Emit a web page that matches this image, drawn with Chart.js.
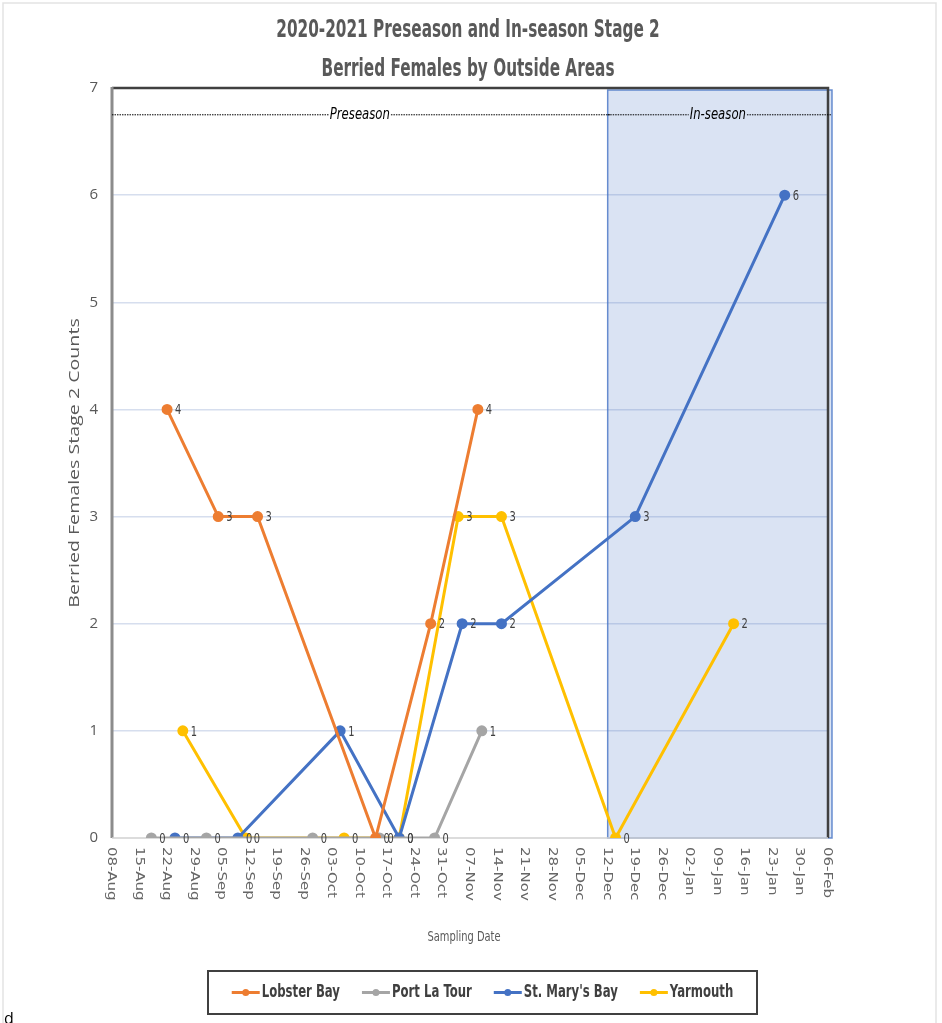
<!DOCTYPE html>
<html>
<head>
<meta charset="utf-8">
<script src="https://cdn.jsdelivr.net/npm/chart.js@4.4.1/dist/chart.umd.min.js"></script>
<style>
  html, body { margin: 0; padding: 0; background: #fff; }
  canvas { display: block; }
</style>
</head>
<body>
<canvas id="chart" width="942" height="1023"></canvas>
<script>
const startDate = '2020-08-08';
const tickLabels = ['08-Aug', '15-Aug', '22-Aug', '29-Aug', '05-Sep', '12-Sep', '19-Sep', '26-Sep',
  '03-Oct', '10-Oct', '17-Oct', '24-Oct', '31-Oct', '07-Nov', '14-Nov', '21-Nov', '28-Nov',
  '05-Dec', '12-Dec', '19-Dec', '26-Dec', '02-Jan', '09-Jan', '16-Jan', '23-Jan', '30-Jan', '06-Feb'];
const inSeasonStart = '2020-12-12';

const lobsterDates = ['2020-08-22', '2020-09-04', '2020-09-14', '2020-10-14', '2020-10-28', '2020-11-09'];
const lobsterCounts = [4, 3, 3, 0, 2, 4];
const portDates = ['2020-08-18', '2020-09-01', '2020-09-28', '2020-10-15', '2020-10-29', '2020-11-10'];
const portCounts = [0, 0, 0, 0, 0, 1];
const stMarysDates = ['2020-08-24', '2020-09-09', '2020-10-05', '2020-10-20', '2020-11-05', '2020-11-15', '2020-12-19', '2021-01-26'];
const stMarysCounts = [0, 0, 1, 0, 2, 2, 3, 6];
const yarmouthDates = ['2020-08-26', '2020-09-11', '2020-10-06', '2020-10-20', '2020-11-04', '2020-11-15', '2020-12-14', '2021-01-13'];
const yarmouthCounts = [1, 0, 0, 0, 3, 3, 0, 2];

const dayOf = d => (Date.parse(d) - Date.parse(startDate)) / 86400000;
const points = (dates, counts) => dates.map((d, i) => ({ x: dayOf(d), y: counts[i] }));

const NARROW = '"Liberation Sans Narrow", "DejaVu Sans Condensed", sans-serif';
const TEXT = '#595959';

// text in the reference is stretched along the vertical, so draw with a scale
function drawText(ctx, text, x, y, opts) {
    ctx.save();
    ctx.translate(x, y);
    if (opts.rotate) ctx.rotate(opts.rotate);
    ctx.scale(opts.sx || 1, opts.sy || 1);
    ctx.font = opts.font;
    ctx.fillStyle = opts.color || TEXT;
    ctx.textAlign = opts.align || 'center';
    ctx.textBaseline = 'middle';
    ctx.fillText(text, 0, 0);
    ctx.restore();
}

const series = [
    { label: 'Lobster Bay', color: '#ed7d31', data: points(lobsterDates, lobsterCounts) },
    { label: 'Port La Tour', color: '#a5a5a5', data: points(portDates, portCounts) },
    { label: "St. Mary's Bay", color: '#4472c4', data: points(stMarysDates, stMarysCounts) },
    { label: 'Yarmouth', color: '#ffc000', data: points(yarmouthDates, yarmouthCounts) }
];

const decorations = {
    id: 'decorations',
    beforeDraw(chart) {
        const { ctx } = chart;
        // light frame of the screenshot
        ctx.save();
        ctx.strokeStyle = '#e3e3e3';
        ctx.lineWidth = 1.5;
        ctx.beginPath();
        ctx.moveTo(3, 1023);
        ctx.lineTo(3, 3);
        ctx.lineTo(936, 3);
        ctx.lineTo(936, 1023);
        ctx.stroke();
        ctx.restore();
    },
    beforeDatasetsDraw(chart) {
        const { ctx, chartArea: a, scales: { x, y } } = chart;
        const boxLeft = x.getPixelForValue(dayOf(inSeasonStart));
        ctx.save();
        // in-season box
        ctx.fillStyle = 'rgba(68,114,196,0.2)';
        ctx.fillRect(boxLeft, a.top + 2, a.right + 4 - boxLeft, a.bottom - a.top - 2);
        ctx.strokeStyle = 'rgba(68,114,196,0.8)';
        ctx.lineWidth = 1.5;
        ctx.strokeRect(boxLeft, a.top + 2, a.right + 4 - boxLeft, a.bottom - a.top - 2);

        // plot frame
        ctx.strokeStyle = '#404040';
        ctx.lineWidth = 2.5;
        ctx.beginPath();
        ctx.moveTo(a.left, a.top);
        ctx.lineTo(a.right, a.top);
        ctx.lineTo(a.right, a.bottom);
        ctx.stroke();
        ctx.strokeStyle = '#8c8c8c';
        ctx.lineWidth = 3;
        ctx.beginPath();
        ctx.moveTo(a.left, a.top - 1);
        ctx.lineTo(a.left, a.bottom);
        ctx.stroke();
        ctx.strokeStyle = '#d0d0d0';
        ctx.lineWidth = 1.5;
        ctx.beginPath();
        ctx.moveTo(a.left, a.bottom);
        ctx.lineTo(a.right, a.bottom);
        ctx.stroke();

        // dotted season line with labels
        const ly = y.getPixelForValue(6.75);
        const labels = [
            { text: 'Preseason', from: a.left, to: boxLeft },
            { text: 'In-season', from: boxLeft, to: a.right }
        ];
        ctx.font = 'italic 13px ' + NARROW;
        ctx.strokeStyle = '#000';
        ctx.lineWidth = 1;
        ctx.setLineDash([1.5, 1]);
        labels.forEach(l => {
            const cx = (l.from + l.to) / 2;
            const w = ctx.measureText(l.text).width / 2 + 1;
            ctx.beginPath();
            ctx.moveTo(l.from, ly);
            ctx.lineTo(cx - w, ly);
            ctx.moveTo(cx + w, ly);
            ctx.lineTo(l.to + 3, ly);
            ctx.stroke();
            drawText(ctx, l.text, cx, ly, { font: 'italic 13px ' + NARROW, color: '#000', sy: 1.2 });
        });
        ctx.restore();
    },
    afterDatasetsDraw(chart) {
        const { ctx } = chart;
        chart.data.datasets.forEach((ds, i) => {
            chart.getDatasetMeta(i).data.forEach((pt, j) => {
                drawText(ctx, String(ds.data[j].y), pt.x + 8, pt.y + 1,
                    { font: '11px ' + NARROW, color: '#404040', align: 'left', sy: 1.3 });
            });
        });
    },
    afterDraw(chart) {
        const { ctx, chartArea: a, scales: { x } } = chart;
        // titles
        drawText(ctx, '2020-2021 Preseason and In-season Stage 2', 468, 31,
            { font: 'bold 17px ' + NARROW, sy: 1.45 });
        drawText(ctx, 'Berried Females by Outside Areas', 468, 70,
            { font: 'bold 17px ' + NARROW, sy: 1.45 });

        // x tick labels, reading top to bottom
        tickLabels.forEach((t, i) => {
            drawText(ctx, t, x.getPixelForValue(i * 7) - 1, a.bottom + 9,
                { font: '11.5px ' + NARROW, rotate: Math.PI / 2, align: 'left', sx: 1.45, color: '#666' });
        });
        drawText(ctx, 'Sampling Date', (a.left + a.right) / 2 - 6, 937,
            { font: '11px ' + NARROW, sy: 1.35 });

        // y title
        drawText(ctx, 'Berried Females Stage 2 Counts', 75, (a.top + a.bottom) / 2,
            { font: '14px "Open Sans", sans-serif', rotate: -Math.PI / 2, sx: 1.4 });

        // legend
        const box = { left: 208, top: 971, right: 757, bottom: 1014 };
        ctx.save();
        ctx.strokeStyle = '#404040';
        ctx.lineWidth = 2;
        ctx.strokeRect(box.left, box.top, box.right - box.left, box.bottom - box.top);
        const legendFont = 'bold 13px ' + NARROW;
        ctx.font = legendFont;
        const marker = 28, gap = 2, spacing = 22;
        const widths = chart.data.datasets.map(ds => ctx.measureText(ds.label).width);
        const total = widths.reduce((s, w) => s + marker + gap + w, 0) + spacing * (widths.length - 1);
        let cx = (box.left + box.right) / 2 - total / 2;
        const cy = (box.top + box.bottom) / 2;
        chart.data.datasets.forEach((ds, i) => {
            ctx.strokeStyle = ds.borderColor;
            ctx.lineWidth = 3;
            ctx.beginPath();
            ctx.moveTo(cx, cy);
            ctx.lineTo(cx + marker, cy);
            ctx.stroke();
            ctx.fillStyle = ds.borderColor;
            ctx.beginPath();
            ctx.arc(cx + marker / 2, cy, 3.5, 0, Math.PI * 2);
            ctx.fill();
            drawText(ctx, ds.label, cx + marker + gap, cy, { font: legendFont, color: '#404040', align: 'left', sy: 1.4 });
            cx += marker + gap + widths[i] + spacing;
        });
        ctx.restore();

        // stray character at the bottom edge of the screenshot
        drawText(ctx, 'd', 4, 1019, { font: '16px "Open Sans", sans-serif', align: 'left', color: '#000' });
    }
};

new Chart(
    document.getElementById('chart'),
    {
        type: 'line',
        data: {
            datasets: series.map(s => ({
                label: s.label,
                data: s.data,
                borderColor: s.color,
                backgroundColor: s.color,
                borderWidth: 3,
                pointRadius: 4,
                pointHoverRadius: 4,
                tension: 0
            }))
        },
        options: {
            responsive: false,
            animation: false,
            devicePixelRatio: 1,
            layout: { padding: { left: 0, top: 88, right: 114, bottom: 85 } },
            plugins: {
                legend: { display: false },
                title: { display: false },
                tooltip: { enabled: false }
            },
            scales: {
                x: {
                    type: 'linear',
                    min: 0,
                    max: (tickLabels.length - 1) * 7,
                    grid: { display: false },
                    border: { display: false },
                    ticks: { display: false, stepSize: 7 },
                    afterFit: scale => { scale.height = 100; }
                },
                y: {
                    min: 0,
                    max: 7,
                    grid: {
                        color: ctx => ctx.tick.value === 0 || ctx.tick.value === 7 ? 'rgba(0,0,0,0)' : '#d6deee',
                        lineWidth: 1.5,
                        drawTicks: false
                    },
                    border: { display: false },
                    ticks: {
                        stepSize: 1,
                        padding: 14,
                        color: TEXT,
                        font: { size: 15, family: '"Open Sans", sans-serif' }
                    },
                    afterFit: scale => { scale.width = 112; }
                }
            }
        },
        plugins: [decorations]
    }
);
</script>
</body>
</html>
